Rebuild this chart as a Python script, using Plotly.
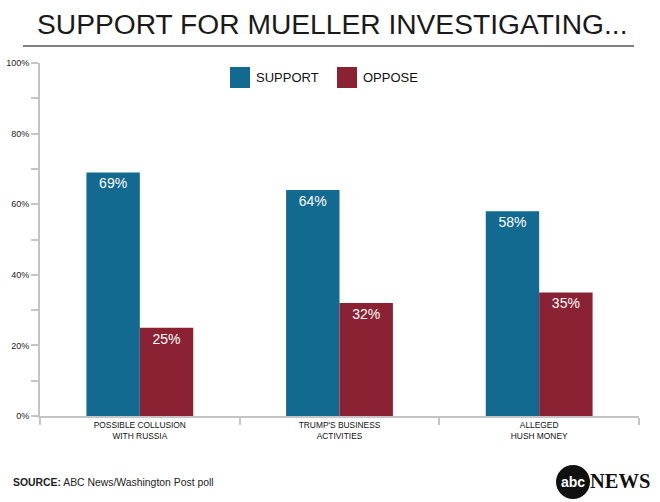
import plotly.graph_objects as go

categories = ["POSSIBLE COLLUSION<br>WITH RUSSIA", "TRUMP'S BUSINESS<br>ACTIVITIES", "ALLEGED<br>HUSH MONEY"]
support = [69, 64, 58]
oppose = [25, 32, 35]
ytick_vals = [0, 20, 40, 60, 80, 100]
ytick_text = ["0%", "20%", "40%", "60%", "80%", "100%"]

C_SUP = "#136a91"
C_OPP = "#8a2234"
FONT = "Liberation Sans, Arial, sans-serif"

fig = go.Figure()
fig.add_trace(go.Bar(name="SUPPORT", x=categories, y=support, marker=dict(color=C_SUP, line=dict(width=0)),
                     text=[f"{v}%" for v in support], textposition="inside", insidetextanchor="end",
                     textfont=dict(color="white", size=14, family=FONT), cliponaxis=False))
fig.add_trace(go.Bar(name="OPPOSE", x=categories, y=oppose, marker=dict(color=C_OPP, line=dict(width=0)),
                     text=[f"{v}%" for v in oppose], textposition="inside", insidetextanchor="end",
                     textfont=dict(color="white", size=14, family=FONT), cliponaxis=False))

fig.update_layout(
    width=660, height=502,
    margin=dict(l=40, r=21, t=63, b=86, autoexpand=False),
    paper_bgcolor="white", plot_bgcolor="white",
    barmode="group", bargap=0.465, bargroupgap=0,
    showlegend=False,
    font=dict(family=FONT, color="#222"),
    xaxis=dict(showline=True, linecolor="#c4c4c4", linewidth=2, ticks="outside", tickson="boundaries",
               ticklen=7, tickcolor="#c4c4c4", tickwidth=1.5, showgrid=False, automargin=False,
               tickfont=dict(size=8.4, family=FONT, color="#111"),
               fixedrange=True),
    yaxis=dict(range=[0, 100], showline=True, linecolor="#c4c4c4", linewidth=2, ticks="outside",
               ticklen=7, tickcolor="#c4c4c4", tickwidth=1.5, showgrid=False, zeroline=False,
               automargin=False, tickvals=ytick_vals, ticktext=ytick_text,
               tickfont=dict(size=9, color="#222", family=FONT),
               minor=dict(dtick=10, ticks="outside", ticklen=7, tickcolor="#c4c4c4", tickwidth=1.5)),
)

# Title and underline
fig.add_annotation(text="SUPPORT FOR MUELLER INVESTIGATING...", xref="paper", yref="paper",
                   x=(332 - 40) / 599, y=1, yshift=63 - 24, xanchor="center", yanchor="middle", showarrow=False,
                   font=dict(size=28.2, family=FONT, color="#1a1a1a"))
fig.add_shape(type="line", xref="paper", yref="paper", x0=-17/599, x1=594/599, y0=1 + 17/353, y1=1 + 17/353,
              line=dict(color="#555", width=1.5))

# Legend (drawn)
for x0, col, lab in [(230, C_SUP, "SUPPORT"), (337, C_OPP, "OPPOSE")]:
    px0 = (x0 - 40) / 599
    px1 = (x0 + 20 - 40) / 599
    fig.add_shape(type="rect", xref="paper", yref="paper", x0=px0, x1=px1,
                  y0=(416 - 88) / 353, y1=(416 - 67) / 353, fillcolor=col, line=dict(width=0))
    fig.add_annotation(text=lab, xref="paper", yref="paper", x=(x0 + 24 - 40) / 599, y=(416 - 77.5) / 353,
                       xanchor="left", yanchor="middle", showarrow=False,
                       font=dict(size=13, family=FONT, color="#111"))

# Source
fig.add_annotation(text="<b>SOURCE:</b> ABC News/Washington Post poll", xref="paper", yref="paper",
                   x=-29/599, y=-(483 - 416) / 353, xanchor="left", yanchor="middle", showarrow=False,
                   font=dict(size=10.4, family=FONT, color="#222"))

# abc NEWS logo
fig.add_shape(type="circle", xref="paper", yref="paper",
              x0=(556 - 40) / 599, x1=(590 - 40) / 599, y0=-(499 - 416) / 353, y1=-(465 - 416) / 353,
              fillcolor="#111", line=dict(width=0))
fig.add_annotation(text="<b>abc</b>", xref="paper", yref="paper", x=(573 - 40) / 599, y=-(482 - 416) / 353,
                   xanchor="center", yanchor="middle", showarrow=False,
                   font=dict(size=14, family=FONT, color="white"))
fig.add_annotation(text="<b>NEWS</b>", xref="paper", yref="paper", x=(588 - 40) / 599, y=-(481 - 416) / 353,
                   xanchor="left", yanchor="middle", showarrow=False,
                   font=dict(size=20.5, family="Liberation Serif, DejaVu Serif, serif", color="#111"))

fig.write_html("out.html", config={"displayModeBar": False},
               post_script="document.body.style.margin='0';")
